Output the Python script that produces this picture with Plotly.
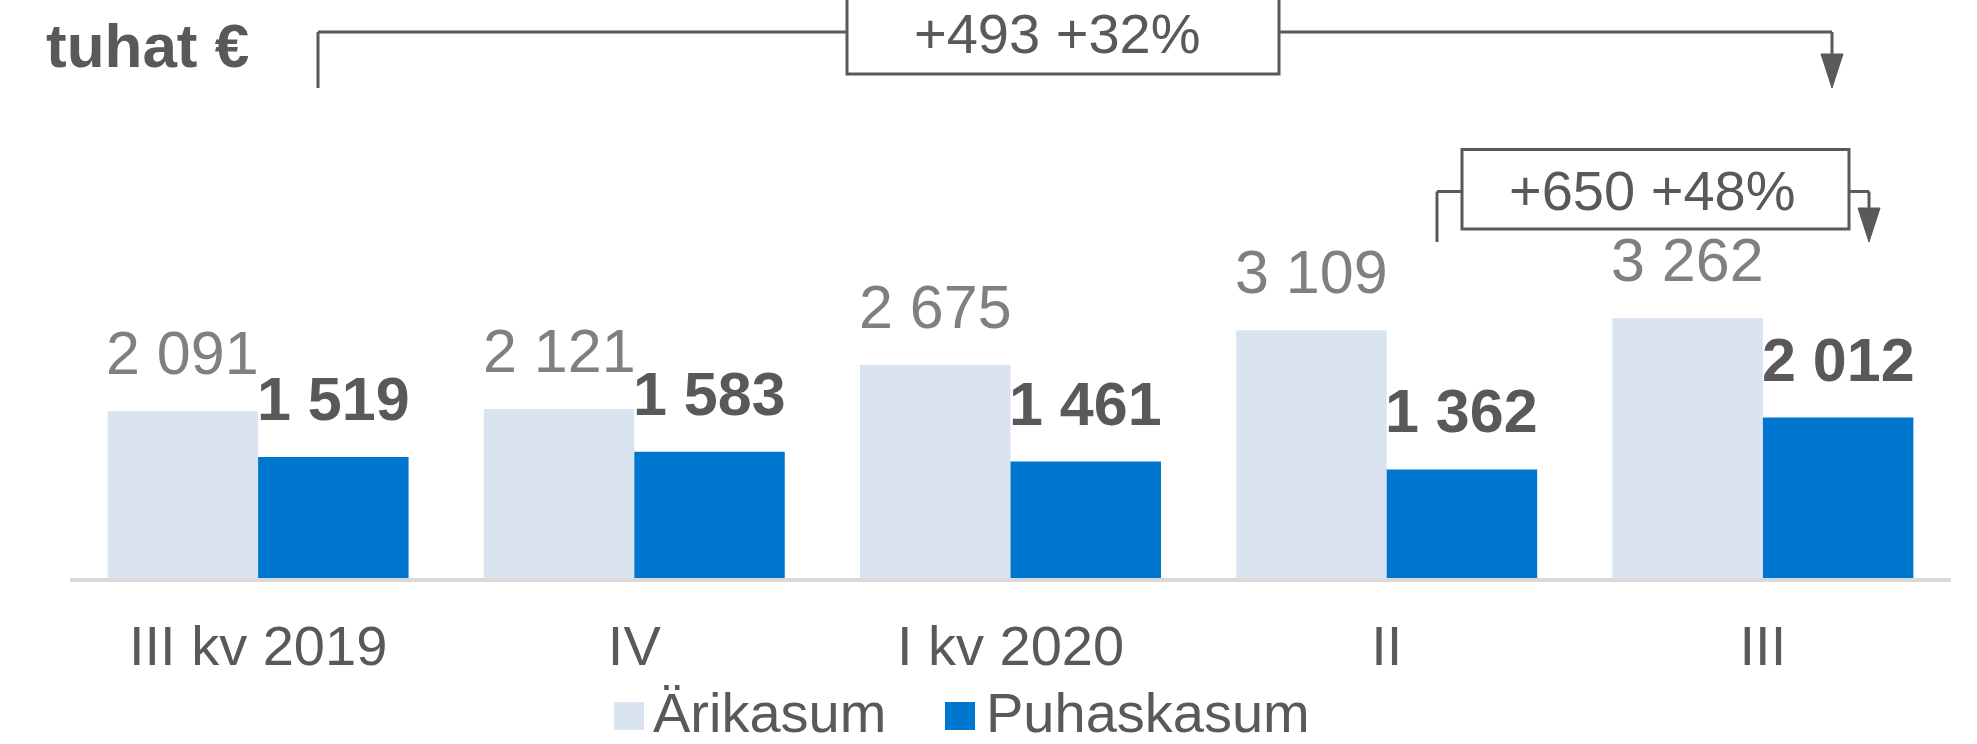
import plotly.graph_objects as go

# ---------------- data ----------------
categories = ["III kv 2019", "IV", "I kv 2020", "II", "III"]
series_names = ["Ärikasum", "Puhaskasum"]
arikasum = [2091, 2121, 2675, 3109, 3262]
puhaskasum = [1519, 1583, 1461, 1362, 2012]
unit_label = "tuhat €"

# ---------------- style ----------------
FONT = "Liberation Sans, Arial, sans-serif"
DARK = "#595959"
GREY_LABEL = "#808080"
COL_ARI = "#DAE3F0"
COL_PUH = "#0077CF"
AXIS_COL = "#D9D9D9"

W, H = 1977, 744
ML, MR, MT, MB = 70, 26, 20, 166
PW = W - ML - MR
PH = H - MT - MB
YMAX = 7000
TXT = 56


def fmt(v):
    return f"{v:,}".replace(",", " ")


def px(p):  # pixel x -> paper
    return (p - ML) / PW


def py(p):  # pixel y -> paper
    return (H - MB - p) / PH


fig = go.Figure()
fig.add_trace(go.Bar(name=series_names[0], x=categories, y=arikasum,
                     marker=dict(color=COL_ARI, line=dict(width=0)),
                     hoverinfo="skip", showlegend=False))
fig.add_trace(go.Bar(name=series_names[1], x=categories, y=puhaskasum,
                     marker=dict(color=COL_PUH, line=dict(width=0)),
                     hoverinfo="skip", showlegend=False))

annotations = []
shapes = []

# data labels
half_bar = PW / len(categories) * 0.8 / 4
for c, a, p in zip(categories, arikasum, puhaskasum):
    annotations.append(dict(x=c, y=a, xref="x", yref="y", xshift=-half_bar, yshift=22,
                            xanchor="center", yanchor="bottom", showarrow=False,
                            text=fmt(a), font=dict(family=FONT, size=61, color=GREY_LABEL)))
    annotations.append(dict(x=c, y=p, xref="x", yref="y", xshift=half_bar, yshift=22,
                            xanchor="center", yanchor="bottom", showarrow=False,
                            text="<b>" + fmt(p) + "</b>", font=dict(family=FONT, size=61, color=DARK)))

# title
annotations.append(dict(x=px(44), y=py(45), xref="paper", yref="paper", xanchor="left",
                        yanchor="middle", showarrow=False, text="<b>" + unit_label + "</b>",
                        font=dict(family=FONT, size=62, color=DARK)))

# change brackets
d1 = puhaskasum[-1] - puhaskasum[0]
d2 = puhaskasum[-1] - puhaskasum[-2]
txt1 = f"+{d1} +{round(100 * d1 / puhaskasum[0])}%"
txt2 = f"+{d2} +{round(100 * d2 / puhaskasum[-2])}%"

line = dict(color=DARK, width=3)


def seg(x0, y0, x1, y1):
    shapes.append(dict(type="line", xref="paper", yref="paper",
                       x0=px(x0), y0=py(y0), x1=px(x1), y1=py(y1), line=line))


def rect(x0, y0, x1, y1):
    shapes.append(dict(type="rect", xref="paper", yref="paper",
                       x0=px(x0), y0=py(y0), x1=px(x1), y1=py(y1), line=line,
                       fillcolor="rgba(0,0,0,0)"))


def head(xc, ytop, ytip, hw=11):
    path = (f"M{px(xc - hw)},{py(ytop)} L{px(xc + hw)},{py(ytop)} "
            f"L{px(xc)},{py(ytip)} Z")
    shapes.append(dict(type="path", xref="paper", yref="paper", path=path,
                       fillcolor=DARK, line=dict(color=DARK, width=1)))


# bracket 1 (top)
seg(318, 88, 318, 32)
seg(318, 32, 847, 32)
rect(847, -6, 1279, 74)
seg(1279, 32, 1832, 32)
seg(1832, 32, 1832, 56)
head(1832, 54, 88)
annotations.append(dict(x=px(1057), y=py(33), xref="paper", yref="paper",
                        xanchor="center", yanchor="middle", showarrow=False, text=txt1,
                        font=dict(family=FONT, size=TXT, color=DARK)))

# bracket 2
seg(1437, 242, 1437, 191.5)
seg(1437, 191.5, 1462, 191.5)
rect(1462, 149.5, 1849, 229)
seg(1849, 191.5, 1869, 191.5)
seg(1869, 191.5, 1869, 210)
head(1869, 208, 242)
annotations.append(dict(x=px(1652), y=py(190), xref="paper", yref="paper",
                        xanchor="center", yanchor="middle", showarrow=False, text=txt2,
                        font=dict(family=FONT, size=TXT, color=DARK)))

# custom legend
leg = [(series_names[0], COL_ARI, 614, 652), (series_names[1], COL_PUH, 945, 985)]
for name, col, sx, tx in leg:
    shapes.append(dict(type="rect", xref="paper", yref="paper",
                       x0=px(sx), x1=px(sx + 30), y0=py(702), y1=py(730),
                       fillcolor=col, line=dict(width=0)))
    annotations.append(dict(x=px(tx), y=py(712.4), xref="paper", yref="paper",
                            xanchor="left", yanchor="middle", showarrow=False, text=name,
                            borderpad=0,
                            font=dict(family=FONT, size=TXT, color=DARK)))

fig.update_layout(
    width=W, height=H,
    margin=dict(l=ML, r=MR, t=MT, b=MB, pad=0),
    paper_bgcolor="white", plot_bgcolor="white",
    barmode="group", bargap=0.2, bargroupgap=0,
    showlegend=False,
    font=dict(family=FONT, color=DARK),
    xaxis=dict(showline=True, linecolor=AXIS_COL, linewidth=4, showgrid=False,
               zeroline=False, ticks="", tickfont=dict(family=FONT, size=TXT, color=DARK),
               ticklabelstandoff=16, fixedrange=True),
    yaxis=dict(range=[0, YMAX], visible=False, showgrid=False, zeroline=False,
               fixedrange=True),
    annotations=annotations,
    shapes=shapes,
)

fig.write_html("out.html", config={"displayModeBar": False})

# remove the browser's default page margin so the figure sits at (0, 0)
with open("out.html", encoding="utf-8") as fh:
    html = fh.read()
html = html.replace("<head>", "<head><style>html,body{margin:0;padding:0;overflow:hidden;}</style>", 1)
with open("out.html", "w", encoding="utf-8") as fh:
    fh.write(html)
